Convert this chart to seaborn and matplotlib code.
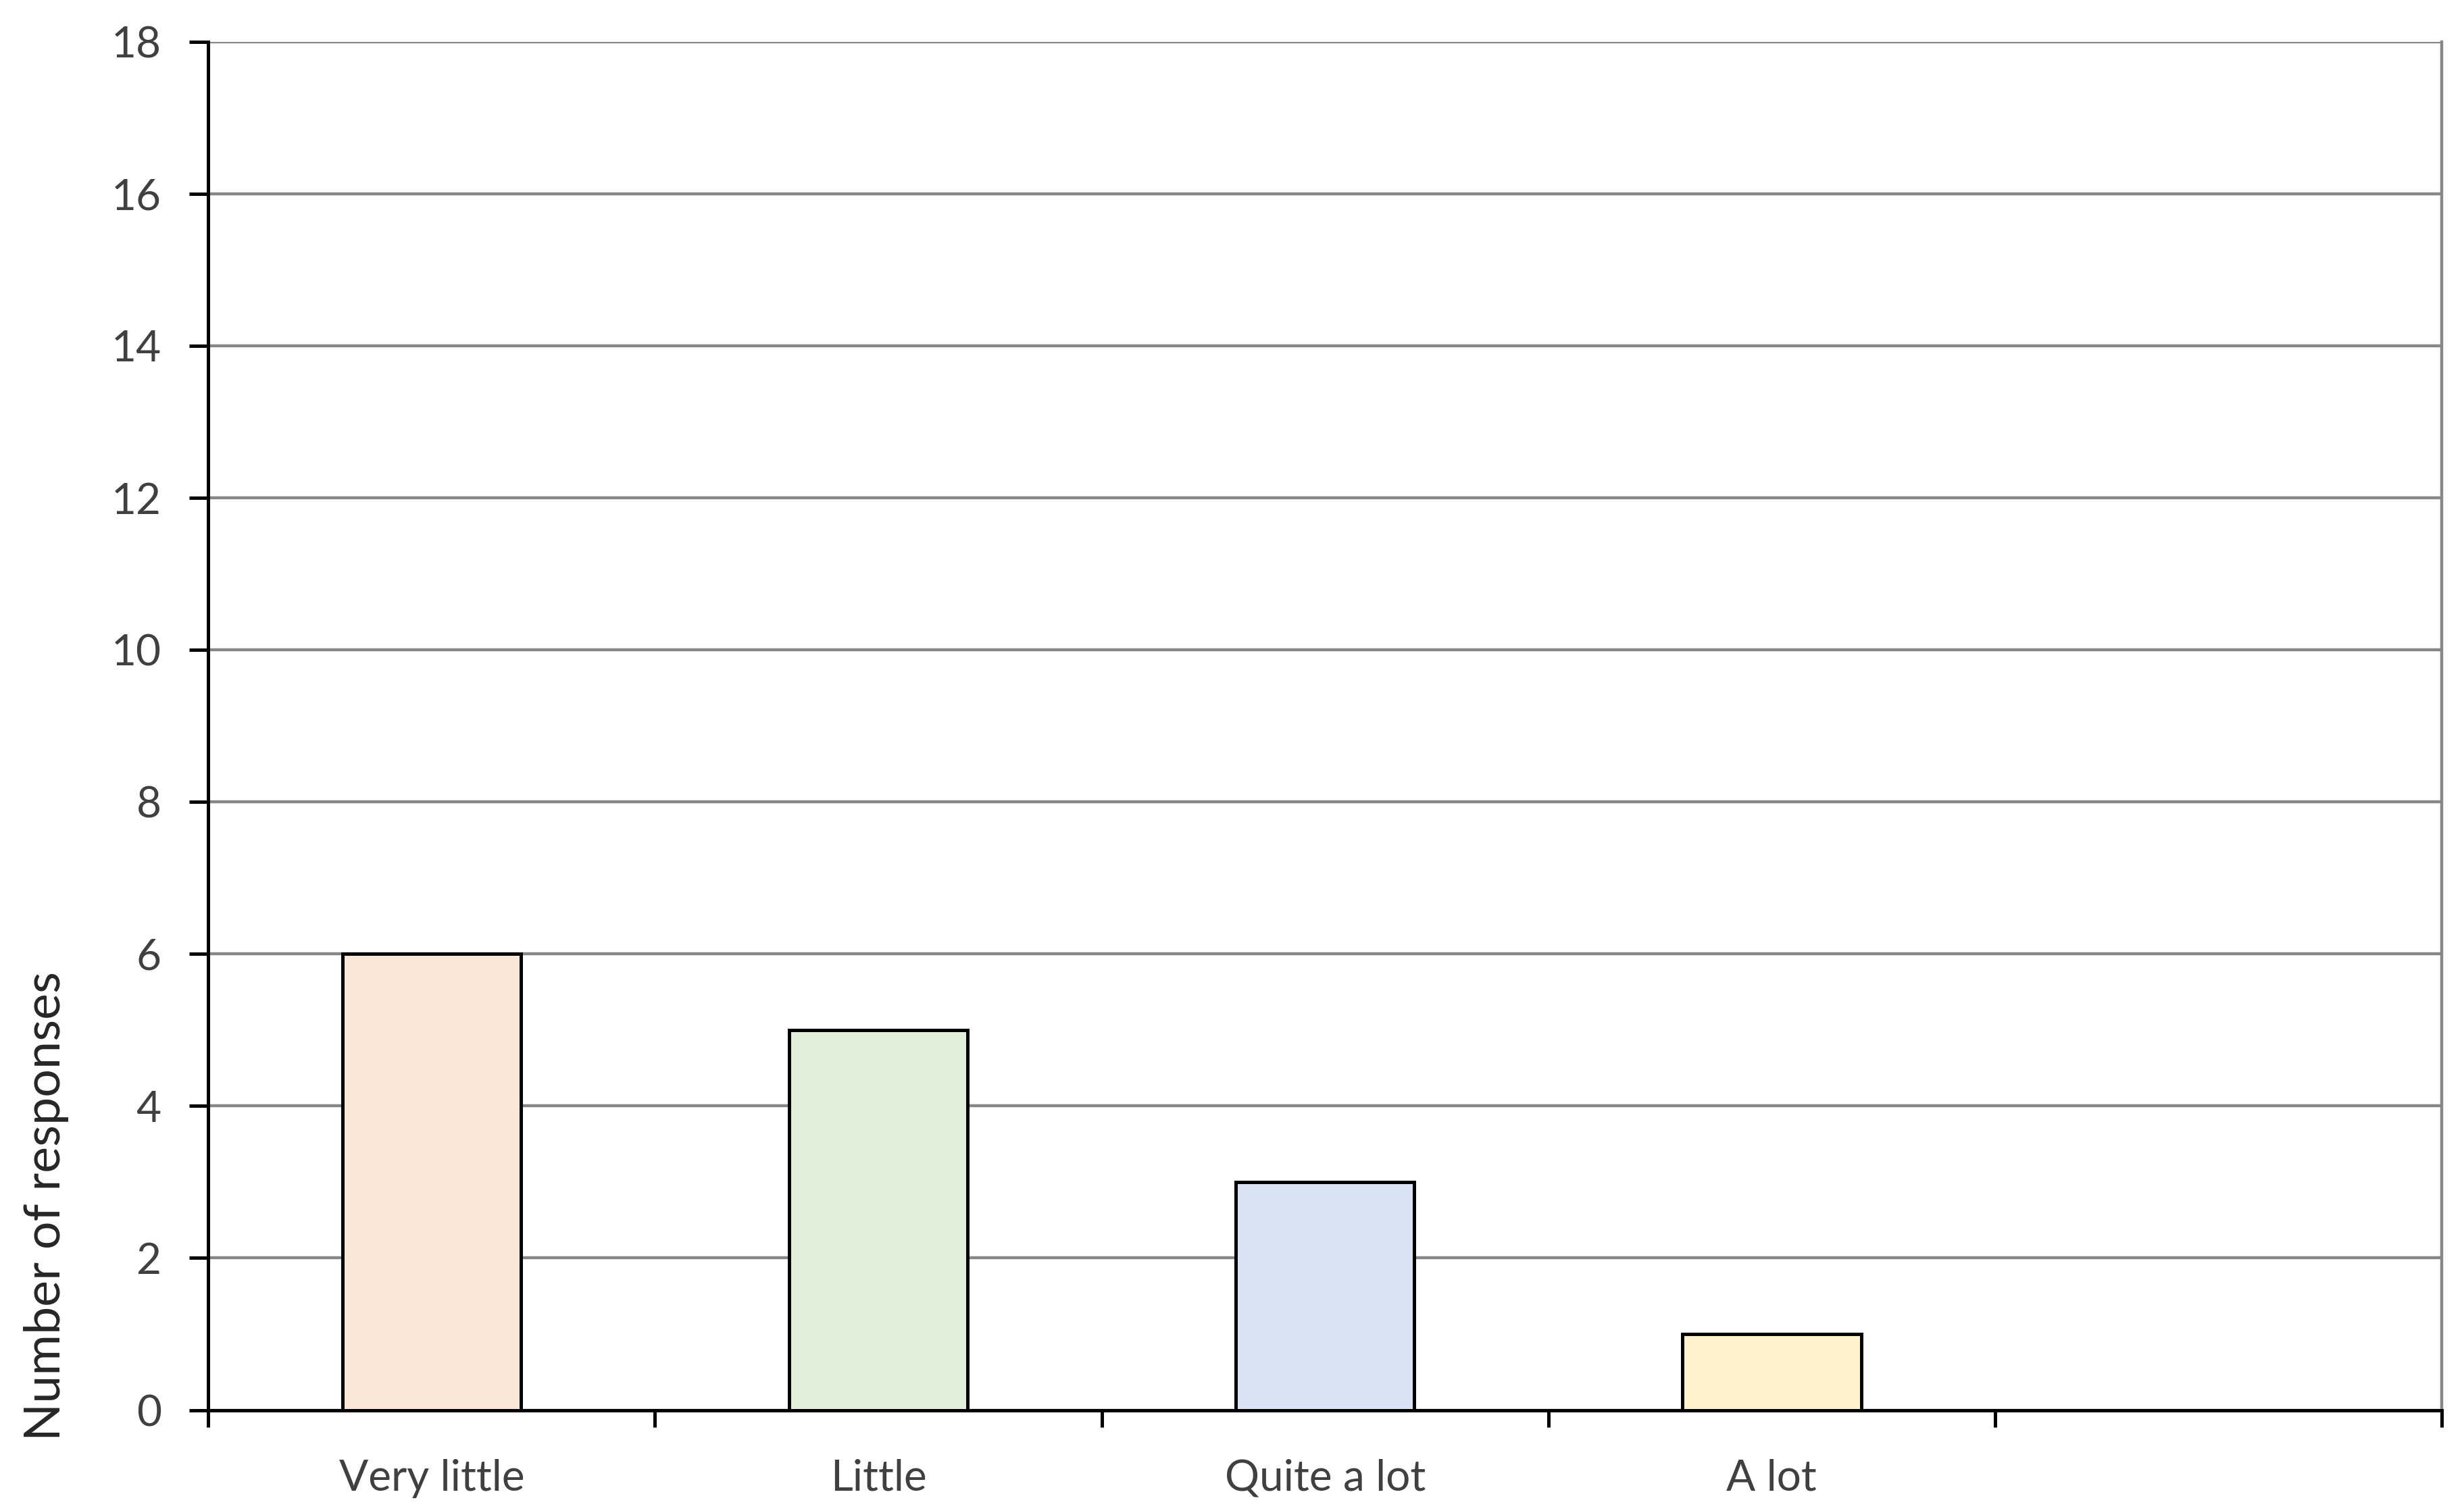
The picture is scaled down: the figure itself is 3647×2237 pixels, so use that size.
import numpy as np
import pandas as pd
import seaborn as sns
import matplotlib.pyplot as plt
from matplotlib.ticker import FixedLocator

categories = ["Very little", "Little", "Quite a lot", "A lot"]
responses = [6, 5, 3, 1]
colors = ["#FBE5D6", "#E2EFDA", "#DAE3F3", "#FFF2CC"]
n_slots = 5  # last slot on the axis is left empty
y_ticks = list(range(0, 19, 2))


def main():
    sns.set_style("white")
    plt.rcParams["font.family"] = ["Lato", "DejaVu Sans"]

    df = pd.DataFrame({"category": categories, "responses": responses})

    fig = plt.figure(figsize=(18.24, 11.185), dpi=200)
    ax = fig.add_axes([0.0845, 0.0668, 0.9062, 0.9056])

    sns.barplot(data=df, x="category", y="responses", hue="category",
                palette=colors, saturation=1, legend=False, width=0.4,
                edgecolor="black", linewidth=1.8, ax=ax, zorder=3)

    # axes limits and grid
    ax.set_xlim(-0.5, n_slots - 0.5)
    ax.set_ylim(0, 18)
    ax.set_yticks(y_ticks)
    ax.yaxis.grid(True, color="#878787", linewidth=1.6, zorder=0)
    ax.set_axisbelow(True)

    # spines
    ax.spines["top"].set_visible(False)
    ax.spines["right"].set_color("#878787")
    ax.spines["right"].set_linewidth(1.6)
    ax.spines["left"].set_color("black")
    ax.spines["left"].set_linewidth(1.8)
    ax.spines["bottom"].set_color("black")
    ax.spines["bottom"].set_linewidth(1.8)

    # ticks: labels centred on bars, tick marks between categories
    ax.xaxis.set_minor_locator(FixedLocator(np.arange(-0.5, n_slots, 1)))
    ax.tick_params(axis="x", which="major", length=0, pad=26,
                   labelsize=23, labelcolor="#404040")
    ax.tick_params(axis="x", which="minor", length=9, width=1.8,
                   color="black", direction="out", bottom=True)
    ax.tick_params(axis="y", length=10, width=1.8, color="black",
                   direction="out", left=True, pad=15,
                   labelsize=23, labelcolor="#404040")

    ax.set_xlabel("")
    ax.set_ylabel("Number of responses", fontsize=26.5, color="#262626")
    ax.yaxis.set_label_coords(-0.0625, 0.149)

    fig.savefig("out.png", dpi=200)


if __name__ == "__main__":
    main()
